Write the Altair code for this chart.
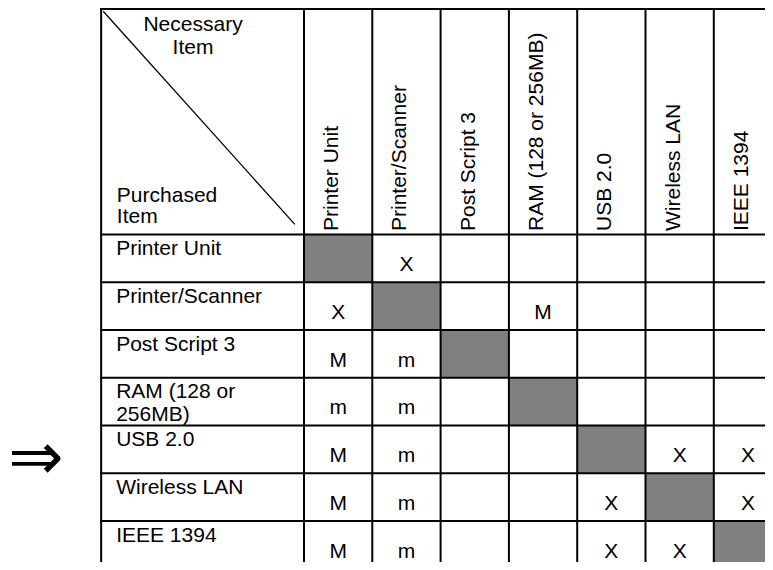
import altair as alt
import pandas as pd

# ---------------- data ----------------
items = ["Printer Unit", "Printer/Scanner", "Post Script 3", "RAM (128 or 256MB)",
         "USB 2.0", "Wireless LAN", "IEEE 1394"]
row_labels = ["Printer Unit", "Printer/Scanner", "Post Script 3", "RAM (128 or\n256MB)",
              "USB 2.0", "Wireless LAN", "IEEE 1394"]
# rows = purchased item, columns = necessary item
marks = [
    ["",  "X", "", "",  "",  "",  ""],
    ["X", "",  "", "M", "",  "",  ""],
    ["M", "m", "", "",  "",  "",  ""],
    ["m", "m", "", "",  "",  "",  ""],
    ["M", "m", "", "",  "",  "X", "X"],
    ["M", "m", "", "",  "X", "",  "X"],
    ["M", "m", "", "",  "X", "X", ""],
]
corner_necessary = "Necessary\nItem"
corner_purchased = "Purchased\nItem"
arrow_symbol = "\u21d2"

# ---------------- layout ----------------
W, H = 757, 554     # whole page minus the 8px body margin
COL_PX = 68.3       # pixel width of one item column
ROW_PX = 47.75      # pixel height of one item row
X0_PX = 296.0       # left edge of first item column
Y0_PX = 226.5       # top edge of first item row
LABEL_W = 2.97      # label column width, in column units
HEADER_H = 4.7225   # header row height, in row units
FONT = "Liberation Sans"
FS = 21
n = len(items)

xs = alt.Scale(domain=[-X0_PX / COL_PX, (W - X0_PX) / COL_PX], nice=False, zero=False)
ys = alt.Scale(domain=[-Y0_PX / ROW_PX, (H - Y0_PX) / ROW_PX], nice=False, zero=False, reverse=True)


def X(f="x"):
    return alt.X(f"{f}:Q", scale=xs, axis=None)


def Y(f="y"):
    return alt.Y(f"{f}:Q", scale=ys, axis=None)


cells = pd.DataFrame([
    {"x": c, "x2": c + 1, "y": r, "y2": r + 1, "shade": r == c,
     "mark": marks[r][c], "xc": c + 0.5}
    for r in range(n) for c in range(n)
])

shade = alt.Chart(cells[cells["shade"]]).mark_rect(color="#808080", clip=True).encode(
    x=X(), x2="x2:Q", y=Y(), y2="y2:Q")

lines = [{"x": -LABEL_W, "x2": -LABEL_W, "y": -HEADER_H, "y2": n}]
lines += [{"x": c, "x2": c, "y": -HEADER_H, "y2": n} for c in range(n + 1)]
lines += [{"x": -LABEL_W, "x2": n, "y": -HEADER_H, "y2": -HEADER_H}]
lines += [{"x": -LABEL_W, "x2": n, "y": r, "y2": r} for r in range(n + 1)]
grid = alt.Chart(pd.DataFrame(lines)).mark_rule(
    color="black", strokeWidth=2, strokeCap="square", clip=True
).encode(x=X(), x2="x2:Q", y=Y(), y2="y2:Q")

diag = pd.DataFrame([{
    "x": -LABEL_W + 0.01 * LABEL_W, "y": -HEADER_H + 0.01 * HEADER_H,
    "x2": -LABEL_W + 0.955 * LABEL_W, "y2": -HEADER_H + 0.955 * HEADER_H,
}])
diagonal = alt.Chart(diag).mark_rule(color="black", strokeWidth=1.3, clip=True).encode(
    x=X(), x2="x2:Q", y=Y(), y2="y2:Q")

headers = pd.DataFrame({"x": [c + 0.5 for c in range(n)], "y": [0] * n, "label": items})
header_text = alt.Chart(headers).mark_text(
    angle=270, align="left", baseline="alphabetic", dx=3.5,
    font=FONT, fontSize=FS, color="black", clip=True
).encode(x=X(), y=Y(), text="label:N")

rows_df = pd.DataFrame({"x": [-LABEL_W] * n, "y": list(range(n)), "label": row_labels})
row_text = alt.Chart(rows_df).mark_text(
    align="left", baseline="alphabetic", dx=15, dy=20.5, lineBreak="\n", lineHeight=23,
    font=FONT, fontSize=FS, color="black"
).encode(x=X(), y=Y(), text="label:N")

value_text = alt.Chart(cells[cells["mark"] != ""]).mark_text(
    align="center", baseline="alphabetic", dy=36.5,
    font=FONT, fontSize=FS, color="black", clip=True
).encode(x=X("xc"), y=Y(), text="mark:N")

corner_top = alt.Chart(pd.DataFrame([{"x": -LABEL_W * 0.547, "y": -HEADER_H, "t": corner_necessary}])).mark_text(
    align="center", baseline="alphabetic", dy=22, lineBreak="\n", lineHeight=23,
    font=FONT, fontSize=FS, color="black"
).encode(x=X(), y=Y(), text="t:N")

corner_bottom = alt.Chart(pd.DataFrame([{"x": -LABEL_W, "y": 0, "t": corner_purchased}])).mark_text(
    align="left", baseline="alphabetic", dx=15.7, dy=-32.8, lineBreak="\n", lineHeight=21.6,
    font=FONT, fontSize=FS, color="black"
).encode(x=X(), y=Y(), text="t:N")

arrow = alt.Chart(pd.DataFrame([{"x": -3.924, "y": 4.70, "t": arrow_symbol}])).mark_text(
    align="center", baseline="middle", font="DejaVu Sans", fontSize=66, color="black"
).encode(x=X(), y=Y(), text="t:N")

chart = alt.layer(
    shade, grid, diagonal, header_text, row_text, value_text, corner_top, corner_bottom, arrow
).properties(
    width=W, height=H, padding=0,
    autosize=alt.AutoSizeParams(type="none"),
).configure_view(stroke=None)

chart.save("out.html", embed_options={"renderer": "svg", "actions": False})
